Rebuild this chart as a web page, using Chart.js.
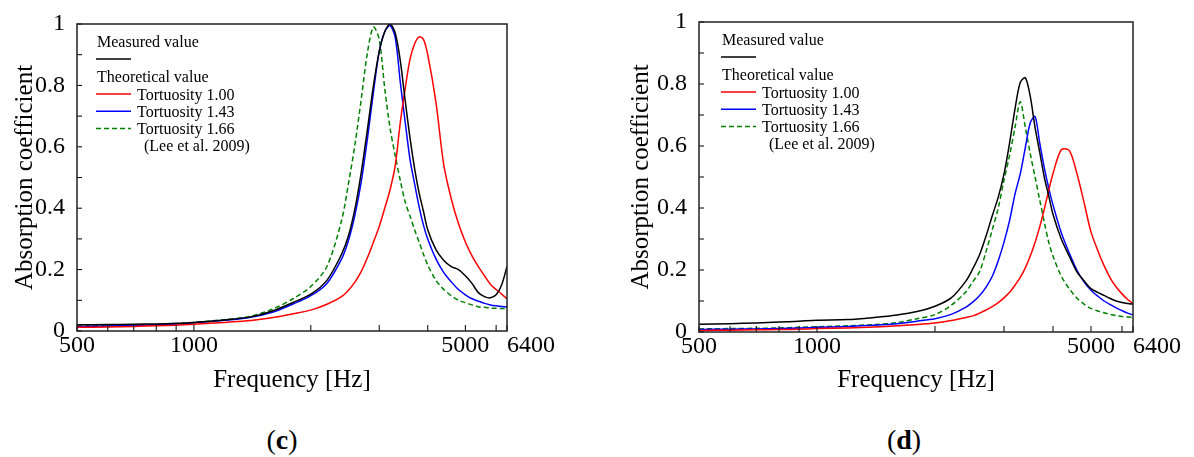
<!DOCTYPE html>
<html>
<head>
<meta charset="utf-8">
<script src="https://cdn.jsdelivr.net/npm/chart.js@4.4.1/dist/chart.umd.min.js"></script>
<style>
    html, body { margin: 0; padding: 0; background: #fff; }
    body { width: 1194px; height: 457px; position: relative; overflow: hidden; font-family: "Liberation Serif", "Times New Roman", serif; }
    .panel { position: absolute; top: 0; width: 597px; height: 400px; }
    .tag { position: absolute; top: 424px; font-size: 28px; line-height: 32px; color: #000; transform: translateX(-50%); }
</style>
</head>
<body>
<div class="panel" style="left:0"><canvas id="chartC"></canvas></div>
<div class="panel" style="left:597px"><canvas id="chartD"></canvas></div>
<div class="tag" style="left:282px">(<b>c</b>)</div>
<div class="tag" style="left:904px">(<b>d</b>)</div>
<script>
"use strict";

/* frequency grid [Hz], shared by both panels */
var freq = [500, 600, 700, 800, 900, 1000, 1200, 1400, 1600, 1800, 2000, 2200, 2400, 2500, 2600, 2700, 2800, 2900, 3000, 3100,
    3200, 3300, 3400, 3500, 3600, 3700, 3800, 3900, 4000, 4200, 4400, 4600, 4800, 5000, 5200, 5400, 5600, 5800, 6000, 6200, 6400];

/* panel (c) */
var measuredC = [0.020, 0.021, 0.022, 0.023, 0.025, 0.028, 0.036, 0.046, 0.066, 0.093, 0.12, 0.165, 0.25, 0.31, 0.40, 0.52, 0.66, 0.80, 0.91, 0.975,
    1.0, 0.97, 0.88, 0.75, 0.63, 0.53, 0.45, 0.39, 0.33, 0.265, 0.23, 0.21, 0.20, 0.18, 0.155, 0.125, 0.112, 0.108, 0.118, 0.15, 0.21];
var tort100C = [0.012, 0.013, 0.015, 0.017, 0.019, 0.022, 0.028, 0.034, 0.044, 0.056, 0.068, 0.087, 0.112, 0.133, 0.16, 0.195, 0.24, 0.29, 0.34, 0.40,
    0.46, 0.54, 0.68, 0.79, 0.885, 0.935, 0.958, 0.95, 0.90, 0.745, 0.54, 0.43, 0.35, 0.29, 0.245, 0.21, 0.18, 0.152, 0.135, 0.12, 0.105];
var tort143C = [0.015, 0.016, 0.018, 0.020, 0.023, 0.027, 0.035, 0.045, 0.062, 0.088, 0.115, 0.155, 0.235, 0.295, 0.38, 0.49, 0.63, 0.78, 0.91, 0.975,
    0.995, 0.955, 0.81, 0.68, 0.56, 0.48, 0.405, 0.345, 0.30, 0.235, 0.19, 0.16, 0.135, 0.118, 0.105, 0.097, 0.09, 0.085, 0.082, 0.08, 0.078];
var tort166C = [0.016, 0.018, 0.019, 0.021, 0.024, 0.028, 0.037, 0.048, 0.072, 0.105, 0.145, 0.21, 0.36, 0.48, 0.61, 0.76, 0.91, 0.99, 0.95, 0.79,
    0.66, 0.57, 0.49, 0.42, 0.375, 0.33, 0.29, 0.25, 0.215, 0.165, 0.135, 0.115, 0.10, 0.092, 0.085, 0.079, 0.077, 0.075, 0.074, 0.073, 0.073];

/* panel (d) */
var measuredD = [0.025, 0.027, 0.029, 0.032, 0.035, 0.038, 0.040, 0.047, 0.055, 0.066, 0.083, 0.11, 0.165, 0.205, 0.25, 0.31, 0.375, 0.435, 0.51, 0.61,
    0.72, 0.805, 0.82, 0.76, 0.66, 0.58, 0.50, 0.44, 0.38, 0.30, 0.245, 0.195, 0.165, 0.14, 0.128, 0.118, 0.108, 0.10, 0.095, 0.092, 0.09];
var tort100D = [0.005, 0.006, 0.007, 0.008, 0.009, 0.011, 0.013, 0.016, 0.02, 0.024, 0.029, 0.037, 0.047, 0.052, 0.061, 0.071, 0.082, 0.095, 0.11, 0.128,
    0.151, 0.176, 0.207, 0.245, 0.289, 0.339, 0.396, 0.456, 0.511, 0.588, 0.586, 0.513, 0.418, 0.323, 0.264, 0.214, 0.174, 0.145, 0.123, 0.105, 0.092];
var tort143D = [0.008, 0.009, 0.010, 0.011, 0.013, 0.015, 0.018, 0.022, 0.027, 0.035, 0.043, 0.057, 0.08, 0.097, 0.118, 0.145, 0.18, 0.23, 0.29, 0.36,
    0.445, 0.51, 0.595, 0.675, 0.695, 0.61, 0.53, 0.465, 0.41, 0.32, 0.255, 0.20, 0.162, 0.135, 0.116, 0.10, 0.088, 0.078, 0.069, 0.061, 0.055];
var tort166D = [0.010, 0.011, 0.012, 0.013, 0.015, 0.017, 0.020, 0.024, 0.030, 0.043, 0.056, 0.086, 0.13, 0.163, 0.195, 0.26, 0.33, 0.40, 0.49, 0.57,
    0.66, 0.743, 0.66, 0.575, 0.50, 0.426, 0.355, 0.29, 0.245, 0.18, 0.14, 0.11, 0.09, 0.076, 0.068, 0.062, 0.057, 0.053, 0.05, 0.048, 0.047];

/* axes */
var xTicks = [500, 600, 700, 800, 900, 1000, 2000, 3000, 4000, 5000, 6000, 6400];
var xTickLabels = { 500: '500', 1000: '1000', 5000: '5000', 6400: '        6400' };
var yTicks = [0, 0.1, 0.2, 0.3, 0.4, 0.5, 0.6, 0.7, 0.8, 0.9, 1];
var yTickLabels = ['0', '', '0.2', '', '0.4', '', '0.6', '', '0.8', '', '1'];

var serif = '"Liberation Serif", "Times New Roman", serif';

function pts(vals) {
    return freq.map(function (f, i) { return { x: f, y: vals[i] }; });
}

function series(label, vals, color, dash, order) {
    return {
        label: label,
        data: pts(vals),
        borderColor: color,
        borderWidth: 1.5,
        borderDash: dash,
        pointRadius: 0,
        fill: false,
        tension: 0.3,
        order: order
    };
}

/* inward tick marks + box frame */
var frameTicks = {
    id: 'frameTicks',
    afterDatasetsDraw: function (chart) {
        var ctx = chart.ctx, a = chart.chartArea, x = chart.scales.x, y = chart.scales.y;
        ctx.save();
        ctx.strokeStyle = '#000';
        ctx.lineWidth = 1;
        ctx.beginPath();
        x.ticks.forEach(function (t) {
            var px = x.getPixelForValue(t.value);
            ctx.moveTo(px, a.bottom);
            ctx.lineTo(px, a.bottom - 6);
        });
        y.ticks.forEach(function (t) {
            var py = y.getPixelForValue(t.value);
            ctx.moveTo(a.left, py);
            ctx.lineTo(a.left + 5, py);
        });
        ctx.stroke();
        ctx.strokeStyle = '#222';
        ctx.lineWidth = 1.5;
        ctx.strokeRect(a.left, a.top, a.right - a.left, a.bottom - a.top);
        ctx.restore();
    }
};

/* legend inside the plot, like the paper */
var legendBox = {
    id: 'legendBox',
    afterDraw: function (chart, args, opts) {
        var ctx = chart.ctx, a = chart.chartArea, ds = chart.data.datasets;
        var x0 = a.left + opts.dx, y0 = a.top;
        function sample(d, yy) {
            ctx.save();
            ctx.strokeStyle = d.borderColor;
            ctx.lineWidth = 1.5;
            ctx.setLineDash(d.borderDash || []);
            ctx.beginPath();
            ctx.moveTo(x0 - 1, yy);
            ctx.lineTo(x0 + 34, yy);
            ctx.stroke();
            ctx.restore();
        }
        ctx.save();
        ctx.font = '16px ' + serif;
        ctx.fillStyle = '#000';
        ctx.textAlign = 'left';
        ctx.textBaseline = 'middle';
        ctx.fillText(ds[0].label, x0, y0 + 19);
        sample(ds[0], y0 + 35);
        ctx.fillText('Theoretical value', x0, y0 + 54);
        for (var i = 1; i < ds.length; i++) {
            var yy = y0 + 70 + (i - 1) * 17.3;
            sample(ds[i], yy);
            ctx.fillText(ds[i].label, x0 + 40, yy + 1.5);
        }
        ctx.fillText('(Lee et al. 2009)', x0 + 47, y0 + 123);
        ctx.restore();
    }
};

function makeChart(id, data, pad, xHeight, yTitlePad, legendDx) {
    var ctx = document.getElementById(id).getContext('2d');
    return new Chart(ctx, {
        type: 'line',
        data: {
            datasets: [
                series('Measured value', data[0], '#000000', [], 0),
                series('Tortuosity 1.00', data[1], '#ff0000', [], 1),
                series('Tortuosity 1.43', data[2], '#0000ff', [], 1),
                series('Tortuosity 1.66', data[3], '#008000', [5, 3], 1)
            ]
        },
        options: {
            responsive: true,
            maintainAspectRatio: false,
            animation: false,
            devicePixelRatio: 1,
            layout: { padding: pad },
            plugins: {
                legend: { display: false },
                tooltip: { enabled: false },
                legendBox: { dx: legendDx }
            },
            scales: {
                x: {
                    type: 'logarithmic',
                    min: 500,
                    max: 6400,
                    afterBuildTicks: function (s) { s.ticks = xTicks.map(function (v) { return { value: v }; }); },
                    afterFit: function (s) { s.height = xHeight; },
                    grid: { display: false },
                    border: { display: false },
                    ticks: {
                        autoSkip: false,
                        maxRotation: 0,
                        padding: -8,
                        color: '#000',
                        font: { family: serif, size: 24 },
                        callback: function (v) { return xTickLabels[v] || ''; }
                    },
                    title: {
                        display: true,
                        text: 'Frequency [Hz]',
                        color: '#000',
                        font: { family: serif, size: 25 },
                        padding: { top: 0, bottom: 5 }
                    }
                },
                y: {
                    min: 0,
                    max: 1,
                    afterBuildTicks: function (s) { s.ticks = yTicks.map(function (v) { return { value: v }; }); },
                    afterFit: function (s) { s.width = 77; },
                    grid: { display: false },
                    border: { display: false },
                    ticks: {
                        autoSkip: false,
                        padding: 4,
                        color: '#000',
                        font: { family: serif, size: 24 },
                        callback: function (v, i) { return yTickLabels[i]; }
                    },
                    title: {
                        display: true,
                        text: 'Absorption coefficient',
                        color: '#000',
                        font: { family: serif, size: 25 },
                        padding: { top: yTitlePad, bottom: 0 }
                    }
                }
            }
        },
        plugins: [frameTicks, legendBox]
    });
}

document.addEventListener("DOMContentLoaded", function () {
    makeChart('chartC', [measuredC, tort100C, tort143C, tort166C], { left: 0, top: 24, right: 90, bottom: 0 }, 69, 10, 20);
    makeChart('chartD', [measuredD, tort100D, tort143D, tort166D], { left: 25, top: 22, right: 61, bottom: 0 }, 68, 4, 23);
});
</script>
</body>
</html>
